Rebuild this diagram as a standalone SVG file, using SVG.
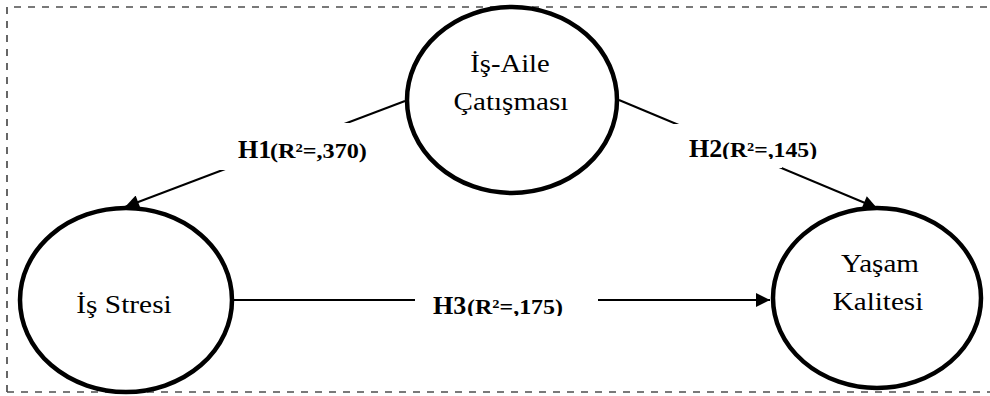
<svg xmlns="http://www.w3.org/2000/svg" width="990" height="396" viewBox="0 0 990 396">
  <style>
    .frame { fill: none; stroke: #4d4d4d; stroke-width: 1.7; stroke-dasharray: 7 7; }
    .node ellipse { fill: #ffffff; stroke: #000000; stroke-width: 4.5; }
    .node text { font-family: "Liberation Serif", "Times New Roman", serif; font-size: 26px; fill: #000000; text-anchor: middle; }
    .edge { stroke: #000000; stroke-width: 2; fill: none; }
    .lbl-bg { fill: #ffffff; }
    .lbl-h { font-family: "Liberation Serif", "Times New Roman", serif; font-weight: bold; font-size: 26px; fill: #000000; }
    .lbl-r { font-family: "Liberation Serif", "Times New Roman", serif; font-weight: bold; font-size: 22px; fill: #000000; }
  </style>
  <defs>
    <marker id="arrow" viewBox="0 0 10 10" refX="10" refY="5" markerWidth="8" markerHeight="7" markerUnits="strokeWidth" orient="auto">
      <path d="M0,0 L10,5 L0,10 z" fill="#000000"/>
    </marker>
    <clipPath id="clip-h2"><rect x="670" y="124" width="160" height="35"/></clipPath>
    <clipPath id="clip-h3"><rect x="415" y="287" width="183" height="29"/></clipPath>
  </defs>

  <rect width="990" height="396" fill="#ffffff"/>

  <!-- dashed outer frame -->
  <path class="frame" d="M7,392 L7,7 L996,7 M7,392 L996,392"/>

  <!-- connectors -->
  <g id="connectors">
    <line class="edge" x1="405" y1="101" x2="125" y2="207" marker-end="url(#arrow)"/>
    <line class="edge" x1="619" y1="100" x2="877" y2="208" marker-end="url(#arrow)"/>
    <line class="edge" x1="233" y1="300" x2="770" y2="300" marker-end="url(#arrow)"/>

    <g id="label-h1">
      <rect class="lbl-bg" x="218" y="123" width="160" height="47"/>
      <text class="lbl-h" transform="translate(238 158)">H1</text>
      <text class="lbl-r" transform="translate(270 158) scale(1.1 1)">(R²=,370)</text>
    </g>
    <g id="label-h2">
      <rect class="lbl-bg" x="670" y="124" width="112" height="44"/>
      <rect class="lbl-bg" x="670" y="124" width="160" height="36"/>
      <g clip-path="url(#clip-h2)">
        <text class="lbl-h" transform="translate(689 157)">H2</text>
        <text class="lbl-r" transform="translate(722 157) scale(1.08 1)">(R²=,145)</text>
      </g>
    </g>
    <g id="label-h3">
      <rect class="lbl-bg" x="415" y="287" width="183" height="29"/>
      <g clip-path="url(#clip-h3)">
        <text class="lbl-h" transform="translate(433 314)">H3</text>
        <text class="lbl-r" transform="translate(467 314) scale(1.09 1)">(R²=,175)</text>
      </g>
    </g>
  </g>

  <!-- nodes -->
  <g id="node-is-aile" class="node">
    <ellipse cx="512" cy="100" rx="105" ry="93"/>
    <text transform="translate(510 72) scale(1.1 1)">İş-Aile</text>
    <text transform="translate(511 110) scale(1.12 1)">Çatışması</text>
  </g>
  <g id="node-is-stresi" class="node">
    <ellipse cx="126" cy="300" rx="106" ry="92"/>
    <text transform="translate(124 313) scale(1.13 1)">İş Stresi</text>
  </g>
  <g id="node-yasam-kalitesi" class="node">
    <ellipse cx="877" cy="298" rx="104" ry="90"/>
    <text transform="translate(880 272) scale(1.12 1)">Yaşam</text>
    <text transform="translate(878 310) scale(1.12 1)">Kalitesi</text>
  </g>
</svg>
